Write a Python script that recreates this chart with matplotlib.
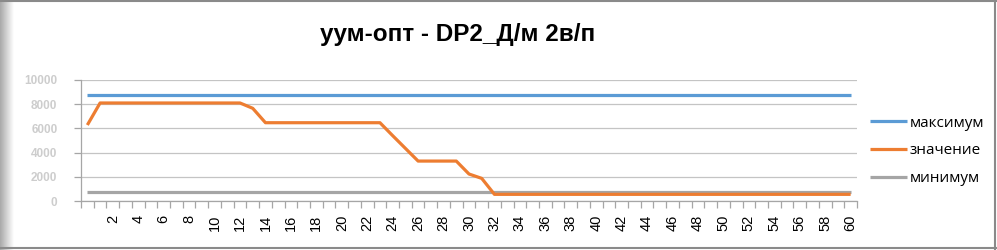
import matplotlib
matplotlib.use("Agg")
import matplotlib.pyplot as plt
import numpy as np
from matplotlib.lines import Line2D
from matplotlib.ticker import FixedLocator

# ---- data ----
categories = list(range(0, 61))
tick_labels = [str(c) if (c % 2 == 0 and c > 0) else "" for c in categories]
maximum = [8760, 8760, 8760, 8760, 8760, 8760, 8760, 8760, 8760, 8760,
           8760, 8760, 8760, 8760, 8760, 8760, 8760, 8760, 8760, 8760,
           8760, 8760, 8760, 8760, 8760, 8760, 8760, 8760, 8760, 8760,
           8760, 8760, 8760, 8760, 8760, 8760, 8760, 8760, 8760, 8760,
           8760, 8760, 8760, 8760, 8760, 8760, 8760, 8760, 8760, 8760,
           8760, 8760, 8760, 8760, 8760, 8760, 8760, 8760, 8760, 8760,
           8760]
value = [6280, 8100, 8100, 8100, 8100, 8100, 8100, 8100, 8100, 8100,
         8100, 8100, 8100, 7660, 6470, 6470, 6470, 6470, 6470, 6470,
         6470, 6470, 6470, 6470, 5400, 4350, 3300, 3300, 3300, 3300,
         2230, 1870, 550, 550, 550, 550, 550, 550, 550, 550,
         550, 550, 550, 550, 550, 550, 550, 550, 550, 550,
         550, 550, 550, 550, 550, 550, 550, 550, 550, 550,
         550]
minimum = [720, 720, 720, 720, 720, 720, 720, 720, 720, 720,
           720, 720, 720, 720, 720, 720, 720, 720, 720, 720,
           720, 720, 720, 720, 720, 720, 720, 720, 720, 720,
           720, 720, 720, 720, 720, 720, 720, 720, 720, 720,
           720, 720, 720, 720, 720, 720, 720, 720, 720, 720,
           720, 720, 720, 720, 720, 720, 720, 720, 720, 720,
           720]
y_ticks = [0, 2000, 4000, 6000, 8000, 10000]
series_names = ["максимум", "значение", "минимум"]
title = "уум-опт - DP2_Д/м 2в/п"

W, H = 997, 250
fig = plt.figure(figsize=(W / 100, H / 100), dpi=100)
fig.patch.set_facecolor("white")

# left shadow gradient
gax = fig.add_axes([0, 0, 13 / W, 1])
grad = np.linspace(0.66, 1.0, 64)[None, :]
gax.imshow(grad, aspect="auto", cmap="gray", vmin=0, vmax=1, extent=[0, 1, 0, 1])
gax.axis("off")

ax = fig.add_axes([81 / W, 1 - 201 / H, (857 - 81) / W, (201 - 80) / H])
x = np.array(categories)
lw = 2.3
ax.plot(x, maximum, color="#5B9BD5", lw=lw, solid_capstyle="butt", label=series_names[0], zorder=3)
ax.plot(x, value, color="#ED7D31", lw=lw, solid_capstyle="butt", label=series_names[1], zorder=4)
ax.plot(x, minimum, color="#A5A5A5", lw=lw, solid_capstyle="butt", label=series_names[2], zorder=3)

ax.set_xlim(-0.5, 60.5)
ax.set_ylim(0, 10000)
ax.set_yticks(y_ticks)
ax.set_yticklabels([str(v) for v in y_ticks], color="#cdcdcd", fontsize=8.5,
                   fontweight="bold", family="Liberation Sans")
ax.grid(axis="y", color="#c4c4c4", lw=0.9)
ax.set_axisbelow(True)

ax.xaxis.set_major_locator(FixedLocator(np.arange(-0.5, 61, 1)))
ax.set_xticklabels([])
ax.xaxis.set_minor_locator(FixedLocator(x))
ax.set_xticklabels(tick_labels, minor=True, rotation=90, fontsize=10.5, family="Liberation Sans")
ax.tick_params(axis="x", which="major", length=5, color="#a6a6a6", width=0.9)
ax.tick_params(axis="x", which="minor", length=0, pad=10)
ax.tick_params(axis="y", length=5, color="#a6a6a6", width=0.9, pad=12)

for s in ["top", "right"]:
    ax.spines[s].set_visible(False)
for s in ["left", "bottom"]:
    ax.spines[s].set_color("#a6a6a6")
    ax.spines[s].set_linewidth(0.9)

fig.text(458 / W, 1 - 35 / H, title, ha="center", va="center", fontsize=17.5,
         fontweight="bold", family="Liberation Sans")

leg = fig.legend(loc="center left", bbox_to_anchor=(870 / W, 1 - 151 / H), frameon=False,
                 borderpad=0, borderaxespad=0, handlelength=2.4, handletextpad=0.2,
                 labelspacing=0.85, prop={"family": "Open Sans", "size": 11})

# frame borders
fig.add_artist(Line2D([0, 1], [1 - 0.5 / H, 1 - 0.5 / H], color="#8a8a8a", lw=1.5, transform=fig.transFigure))
fig.add_artist(Line2D([994.5 / W, 994.5 / W], [0, 1], color="#8a8a8a", lw=1.5, transform=fig.transFigure))
fig.add_artist(Line2D([0, 1], [1 - 247.5 / H, 1 - 247.5 / H], color="#8a8a8a", lw=1.5, transform=fig.transFigure))

fig.savefig("out.png", dpi=100, facecolor="white")
